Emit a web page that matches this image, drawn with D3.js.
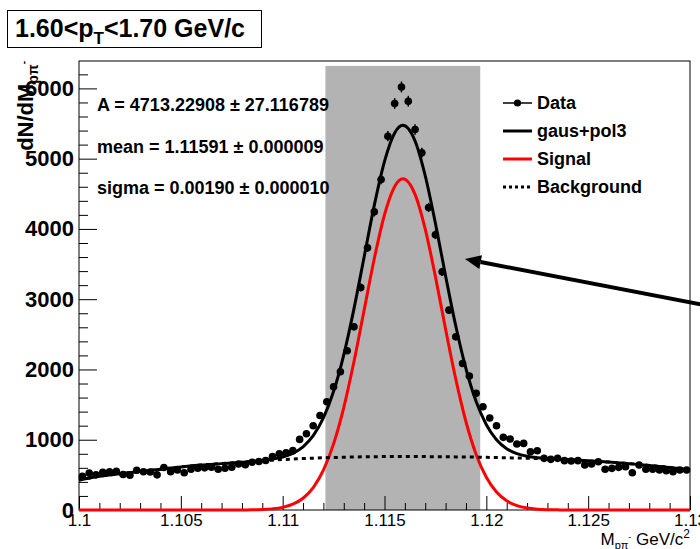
<!DOCTYPE html>
<html>
<head>
<meta charset="utf-8">
<script src="https://cdn.jsdelivr.net/npm/d3@7/dist/d3.min.js"></script>
<style>
  body { margin: 0; background: #fff; }
  svg { display: block; font-family: "Liberation Sans", Arial, Helvetica, sans-serif; }
</style>
</head>
<body>
<div id="chart"></div>
<script>
// histogram: 90 bins between 1.10 and 1.13
const binRange = [1.1, 1.13]
const counts = [
  480, 525, 500, 535, 545, 550, 505, 495, 565, 545,
  540, 500, 605, 545, 570, 530, 580, 595, 600, 610,
  580, 595, 610, 655, 645, 680, 690, 705, 760, 800,
  815, 845, 1005, 1085, 1200, 1345, 1540, 1754, 1967, 2266,
  2607, 3167, 3733, 4243, 4704, 5320, 5785, 6021, 5818, 5415,
  5083, 4306, 3918, 3389, 2844, 2465, 2086, 1906, 1660, 1469,
  1310, 1200, 1034, 1010, 939, 948, 830, 844, 735, 721,
  735, 702, 697, 702, 640, 654, 687, 579, 593, 607,
  616, 531, 640, 579, 579, 569, 559, 545, 569, 569
]

// fit curves
const fitX = [
  1.100, 1.101, 1.102, 1.103, 1.104, 1.105, 1.106, 1.107, 1.108,
  1.1085, 1.109, 1.1095, 1.110, 1.1105, 1.111, 1.1115, 1.112, 1.1125, 1.113,
  1.1135, 1.114, 1.1145, 1.115, 1.1155, 1.1159, 1.1165, 1.117, 1.1175, 1.118,
  1.1185, 1.119, 1.1195, 1.120, 1.1205, 1.121, 1.1215, 1.122, 1.1225, 1.123, 1.1235,
  1.124, 1.125, 1.126, 1.127, 1.128, 1.129, 1.130
]
const fitTotal = [
  427, 480, 515, 548, 580, 612, 640, 660, 681,
  692, 706, 725, 755, 807, 899, 1057, 1310, 1688, 2209,
  2863, 3601, 4338, 4962, 5366, 5474, 5252, 4757, 4080, 3331,
  2618, 2010, 1543, 1214, 1001, 873, 802, 765, 745, 733, 724,
  716, 700, 682, 660, 635, 605, 572
]
const fitSignal = [
  0, 0, 0, 0, 0, 0, 0, 0, 1,
  2, 6, 16, 37, 82, 167, 319, 567, 941, 1458,
  2109, 2844, 3579, 4202, 4605, 4713, 4491, 3997, 3321, 2573,
  1862, 1256, 791, 465, 255, 130, 62, 28, 12, 5, 2,
  0, 0, 0, 0, 0, 0, 0
]
const fitBackground = [
  427, 480, 515, 548, 580, 612, 640, 660, 680,
  690, 700, 709, 718, 725, 732, 738, 743, 747, 751,
  754, 757, 759, 760, 761, 761, 761, 760, 759, 758,
  756, 754, 752, 749, 746, 743, 740, 737, 733, 728, 722,
  716, 700, 682, 660, 635, 605, 572
]

const xMajorTicks = [1.1, 1.105, 1.11, 1.115, 1.12, 1.125, 1.13]
const yMajorTicks = [0, 1000, 2000, 3000, 4000, 5000, 6000]
const bandRange = [1.1121, 1.1197]
const bandTop = 6320
const fitParams = [
  'A = 4713.22908  \u00b1 27.116789',
  'mean = 1.11591 \u00b1 0.000009',
  'sigma = 0.00190 \u00b1 0.000010'
]
const legendLabels = ['Data', 'gaus+pol3', 'Signal', 'Background']
const arrowFrom = [1.131, 2900]
const arrowTo = [1.11895, 3572]

const width = 700
const height = 549
const frame = { left: 79, right: 690, top: 61, bottom: 510 }

const svg = d3
  .select('#chart')
  .append('svg')
  .attr('width', width)
  .attr('height', height)
  .attr('viewBox', [0, 0, width, height])

svg.append('rect').attr('width', width).attr('height', height).attr('fill', '#fff')

const x = d3.scaleLinear().domain(binRange).range([frame.left, frame.right])
const y = d3.scaleLinear().domain([0, 6390]).range([frame.bottom, frame.top])

const nBins = counts.length
const binW = (binRange[1] - binRange[0]) / nBins
const hist = counts.map((c, i) => ({ x: binRange[0] + (i + 0.5) * binW, n: c }))

// selection band
svg
  .append('rect')
  .attr('x', x(bandRange[0]))
  .attr('y', y(bandTop))
  .attr('width', x(bandRange[1]) - x(bandRange[0]))
  .attr('height', y(0) - y(bandTop))
  .attr('fill', '#b3b3b3')

// axes
const xMinor = d3.range(1.1, 1.1305, 0.001).filter((v) => !xMajorTicks.some((t) => Math.abs(t - v) < 1e-6))
const yMinor = d3.range(0, 6390, 200).filter((v) => v % 1000 !== 0)

const axisStyle = (g) => {
  g.selectAll('line').attr('stroke', '#000')
  g.select('.domain').remove()
}

svg
  .append('g')
  .attr('transform', `translate(0,${frame.bottom})`)
  .call(d3.axisBottom(x).tickValues(xMinor).tickSize(-7).tickFormat(''))
  .call(axisStyle)

svg
  .append('g')
  .attr('transform', `translate(0,${frame.bottom})`)
  .call(
    d3
      .axisBottom(x)
      .tickValues(xMajorTicks)
      .tickSize(-14)
      .tickPadding(4)
      .tickFormat((d) => String(+d.toFixed(3)))
  )
  .call(axisStyle)
  .call((g) =>
    g.selectAll('text').attr('fill', '#000').attr('font-size', 17).attr('font-family', null)
  )

svg
  .append('g')
  .attr('transform', `translate(${frame.left},0)`)
  .call(d3.axisLeft(y).tickValues(yMinor).tickSize(-9).tickFormat(''))
  .call(axisStyle)

svg
  .append('g')
  .attr('transform', `translate(${frame.left},0)`)
  .call(d3.axisLeft(y).tickValues(yMajorTicks).tickSize(-18).tickPadding(5).tickFormat(d3.format('d')))
  .call(axisStyle)
  .call((g) =>
    g
      .selectAll('text')
      .attr('fill', '#000')
      .attr('font-size', 22)
      .attr('font-weight', 'bold')
      .attr('font-family', null)
  )

// frame
svg
  .append('rect')
  .attr('x', frame.left)
  .attr('y', frame.top)
  .attr('width', frame.right - frame.left)
  .attr('height', frame.bottom - frame.top)
  .attr('fill', 'none')
  .attr('stroke', '#000')
  .attr('stroke-width', 1)

// data points with errors
const pts = svg.append('g').attr('class', 'points')
pts
  .selectAll('line.ey')
  .data(hist)
  .join('line')
  .attr('class', 'ey')
  .attr('x1', (d) => x(d.x))
  .attr('x2', (d) => x(d.x))
  .attr('y1', (d) => y(d.n + Math.sqrt(d.n)))
  .attr('y2', (d) => y(d.n - Math.sqrt(d.n)))
  .attr('stroke', '#000')
  .attr('stroke-width', 1.5)
pts
  .selectAll('line.ex')
  .data(hist)
  .join('line')
  .attr('class', 'ex')
  .attr('x1', (d) => x(d.x - binW / 2))
  .attr('x2', (d) => x(d.x + binW / 2))
  .attr('y1', (d) => y(d.n))
  .attr('y2', (d) => y(d.n))
  .attr('stroke', '#000')
  .attr('stroke-width', 1)
pts
  .selectAll('circle')
  .data(hist)
  .join('circle')
  .attr('cx', (d) => x(d.x))
  .attr('cy', (d) => y(d.n))
  .attr('r', 3.8)
  .attr('fill', '#000')

// fit curves
const curve = (vals) =>
  d3
    .line()
    .x((d, i) => x(fitX[i]))
    .y((d) => y(d))
    .curve(d3.curveMonotoneX)(vals)

svg
  .append('path')
  .attr('d', curve(fitSignal))
  .attr('fill', 'none')
  .attr('stroke', '#ff0000')
  .attr('stroke-width', 3)
svg
  .append('path')
  .attr('d', curve(fitBackground))
  .attr('fill', 'none')
  .attr('stroke', '#000')
  .attr('stroke-width', 3)
  .attr('stroke-dasharray', '4 4')
svg
  .append('path')
  .attr('d', curve(fitTotal))
  .attr('fill', 'none')
  .attr('stroke', '#000')
  .attr('stroke-width', 3)

// fit parameters
svg
  .append('g')
  .selectAll('text')
  .data(fitParams)
  .join('text')
  .attr('x', 97)
  .attr('y', (d, i) => [111, 153, 194][i])
  .attr('font-size', 18)
  .attr('font-weight', 'bold')
  .text((d) => d)

// legend
const leg = svg.append('g').attr('class', 'legend')
const rowY = [103, 131, 159, 187]
legendLabels.forEach((lab, i) => {
  const yy = rowY[i]
  const line = leg
    .append('line')
    .attr('x1', 503)
    .attr('x2', 532)
    .attr('y1', yy)
    .attr('y2', yy)
    .attr('stroke', i === 2 ? '#ff0000' : '#000')
    .attr('stroke-width', i === 0 ? 1.5 : 3)
  if (i === 3) line.attr('stroke-dasharray', '3 3')
  if (i === 0) leg.append('circle').attr('cx', 517.5).attr('cy', yy).attr('r', 3.6).attr('fill', '#000')
  leg
    .append('text')
    .attr('x', 537)
    .attr('y', yy + 6)
    .attr('font-size', 18)
    .attr('font-weight', 'bold')
    .text(lab)
})

// arrow
const ax0 = x(arrowFrom[0]), ay0 = y(arrowFrom[1])
const ax1 = x(arrowTo[0]), ay1 = y(arrowTo[1])
const ang = Math.atan2(ay1 - ay0, ax1 - ax0)
const headL = 16, headW = 7
const bx = ax1 - headL * Math.cos(ang), by = ay1 - headL * Math.sin(ang)
svg
  .append('line')
  .attr('x1', ax0)
  .attr('y1', ay0)
  .attr('x2', bx)
  .attr('y2', by)
  .attr('stroke', '#000')
  .attr('stroke-width', 4)
svg
  .append('path')
  .attr(
    'd',
    `M${ax1},${ay1}L${bx + headW * Math.sin(ang)},${by - headW * Math.cos(ang)}L${bx - headW * Math.sin(ang)},${by + headW * Math.cos(ang)}Z`
  )
  .attr('fill', '#000')

// title box
svg
  .append('rect')
  .attr('x', 7.5)
  .attr('y', 10.5)
  .attr('width', 254)
  .attr('height', 37)
  .attr('fill', '#fff')
  .attr('stroke', '#000')
const title = svg
  .append('text')
  .attr('x', 15)
  .attr('y', 37)
  .attr('font-size', 25)
  .attr('font-weight', 'bold')
title.append('tspan').text('1.60<p')
title.append('tspan').attr('font-size', 17).attr('dy', 7).text('T')
title.append('tspan').attr('dy', -7).text('<1.70 GeV/c')

// axis titles
const xt = svg
  .append('text')
  .attr('x', 690)
  .attr('y', 545)
  .attr('text-anchor', 'end')
  .attr('font-size', 17)
xt.append('tspan').text('M')
xt.append('tspan').attr('font-size', 11).attr('dy', 4).text('p\u03c0')
xt.append('tspan').attr('font-size', 9).attr('dy', -9).text('-')
xt.append('tspan').attr('dy', 5).text(' GeV/c')
xt.append('tspan').attr('font-size', 12).attr('dy', -7).text('2')

const yt = svg
  .append('text')
  .attr('transform', 'translate(33,61) rotate(-90)')
  .attr('text-anchor', 'end')
  .attr('font-size', 22)
  .attr('font-weight', 'bold')
yt.append('tspan').text('dN/dM')
yt.append('tspan').attr('font-size', 14).attr('dy', 5).text('p\u03c0')
yt.append('tspan').attr('font-size', 10).attr('dy', -11).text('-')
</script>
</body>
</html>
